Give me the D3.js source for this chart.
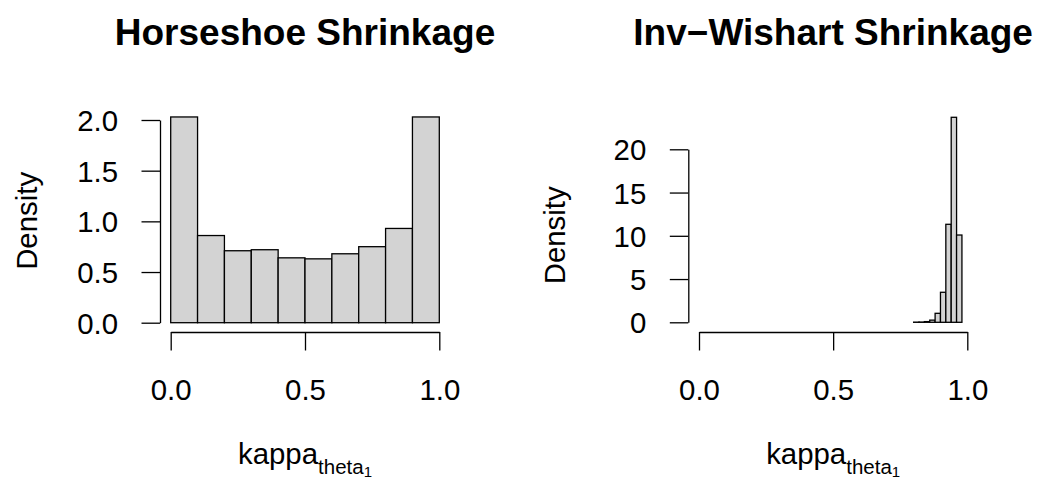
<!DOCTYPE html>
<html>
<head>
<meta charset="utf-8">
<script src="https://cdn.jsdelivr.net/npm/d3@7"></script>
<style>
  html, body { margin: 0; padding: 0; background: #fff; }
  svg { display: block; }
  text { font-family: "Liberation Sans", Arial, Helvetica, sans-serif; fill: #000; }
</style>
</head>
<body>
<svg id="chart" width="1040" height="479"></svg>
<script>
// Horseshoe prior: histogram of shrinkage factor, bins of width 0.1
const hsBreaks  = [0.0, 0.1, 0.2, 0.3, 0.4, 0.5, 0.6, 0.7, 0.8, 0.9, 1.0];
const hsDensity = [2.03, 0.86, 0.71, 0.72, 0.64, 0.63, 0.68, 0.75, 0.93, 2.03];

// Inverse-Wishart prior: histogram of shrinkage factor, bins of width 0.02
const iwBreaks  = [0.80, 0.82, 0.84, 0.86, 0.88, 0.90, 0.92, 0.94, 0.96, 0.98];
const iwDensity = [0.02, 0.03, 0.08, 0.25, 1.04, 3.47, 11.33, 23.70, 10.09];

// Axis ticks
const xTicks   = [0, 0.5, 1];
const hsYTicks = [0, 0.5, 1, 1.5, 2];
const iwYTicks = [0, 5, 10, 15, 20];

const titles = ["Horseshoe Shrinkage", "Inv\u2212Wishart Shrinkage"];

const svg = d3.select("#chart");

const panels = [
  { title: titles[0], breaks: hsBreaks, dens: hsDensity, yTicks: hsYTicks,
    yFmt: d3.format(".1f"),
    x0: 170.7, x1: 439.3, yBase: 322.7, yTop: 120, yMax: 2, axisX: 160 },
  { title: titles[1], breaks: iwBreaks, dens: iwDensity, yTicks: iwYTicks,
    yFmt: d3.format("d"),
    x0: 699, x1: 967.3, yBase: 322.3, yTop: 149.3, yMax: 20, axisX: 688.3 }
];

const tickLen = 18.5;
const labelSize = 29.4;
const xAxisY = 332;

panels.forEach(p => {
  const x = d3.scaleLinear().domain([0, 1]).range([p.x0, p.x1]);
  const y = d3.scaleLinear().domain([0, p.yMax]).range([p.yBase, p.yTop]);
  const g = svg.append("g");

  // bars
  g.selectAll("rect.bar")
    .data(p.dens)
    .join("rect")
    .attr("class", "bar")
    .attr("x", (d, i) => x(p.breaks[i]))
    .attr("width", (d, i) => x(p.breaks[i + 1]) - x(p.breaks[i]))
    .attr("y", d => y(d))
    .attr("height", d => y(0) - y(d))
    .attr("fill", "#d3d3d3")
    .attr("stroke", "#000")
    .attr("stroke-width", 1.3);

  // x axis
  const xa = g.append("g")
    .attr("transform", `translate(0,${xAxisY})`)
    .call(d3.axisBottom(x).tickValues(xTicks).tickFormat(d3.format(".1f"))
      .tickSizeOuter(0).tickSizeInner(tickLen));
  xa.select(".domain").attr("stroke-width", 1.3);
  xa.selectAll(".tick line").attr("stroke-width", 1.3);
  xa.selectAll(".tick text")
    .attr("y", 68).attr("dy", null)
    .style("font-size", labelSize + "px")
    .style("font-family", "'Liberation Sans', Arial, sans-serif");

  // y axis
  const ya = g.append("g")
    .attr("transform", `translate(${p.axisX},0)`)
    .call(d3.axisLeft(y).tickValues(p.yTicks).tickFormat(p.yFmt)
      .tickSizeOuter(0).tickSizeInner(tickLen));
  ya.select(".domain").attr("stroke-width", 1.3);
  ya.selectAll(".tick line").attr("stroke-width", 1.3);
  ya.selectAll(".tick text")
    .attr("x", -42).attr("dy", "0.36em")
    .style("font-size", labelSize + "px")
    .style("font-family", "'Liberation Sans', Arial, sans-serif");

  const cx = (p.x0 + p.x1) / 2;

  // title
  g.append("text")
    .attr("x", cx).attr("y", 45)
    .attr("text-anchor", "middle")
    .style("font-size", "37px")
    .style("font-weight", "bold")
    .text(p.title);

  // y label
  g.append("text")
    .attr("transform", `translate(${p.axisX - 123.3},${(p.yBase + p.yTop) / 2 - 0.5}) rotate(-90)`)
    .attr("text-anchor", "middle")
    .style("font-size", labelSize + "px")
    .text("Density");

  // x label with nested subscripts
  const xl = g.append("text")
    .attr("x", cx).attr("y", 464)
    .attr("text-anchor", "middle")
    .style("font-size", labelSize + "px");
  xl.append("tspan").text("kappa");
  xl.append("tspan").attr("dy", 10).style("font-size", "20.5px").text("theta");
  xl.append("tspan").attr("dy", 3).style("font-size", "15px").text("1");
});
</script>
</body>
</html>
